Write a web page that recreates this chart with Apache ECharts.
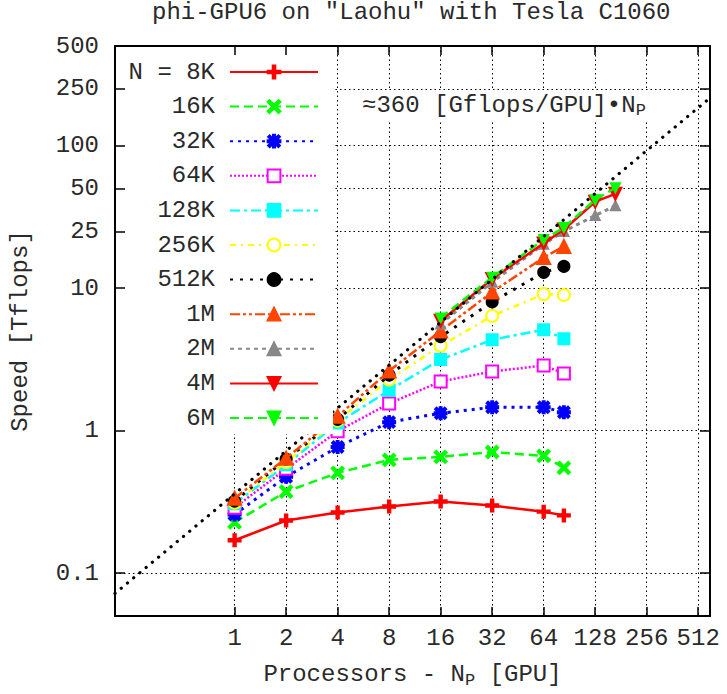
<!DOCTYPE html>
<html>
<head>
<meta charset="utf-8">
<script src="https://cdn.jsdelivr.net/npm/echarts@6.0.0/dist/echarts.min.js"></script>
<style>
html,body{margin:0;padding:0;background:#fff;}
#chart{width:727px;height:694px;}
</style>
</head>
<body>
<div id="chart"></div>
<script>
// ---------- data ----------
const titleText = 'phi-GPU6 on "Laohu" with Tesla C1060';
const xTicks = [1, 2, 4, 8, 16, 32, 64, 128, 256, 512];
const yTicks = [0.1, 1, 10, 25, 50, 100, 250, 500];

const procsSmall = [1, 2, 4, 8, 16, 32, 64, 84];
const procsLarge = [16, 32, 64, 84, 128, 168];

const speed8K   = [0.170, 0.234, 0.266, 0.293, 0.318, 0.298, 0.270, 0.254];
const speed16K  = [0.227, 0.373, 0.505, 0.623, 0.654, 0.708, 0.664, 0.548];
const speed32K  = [0.258, 0.474, 0.767, 1.146, 1.324, 1.458, 1.458, 1.345];
const speed64K  = [0.288, 0.539, 0.99, 1.55, 2.21, 2.60, 2.86, 2.52];
const speed128K = [0.307, 0.575, 1.13, 1.92, 3.15, 4.34, 5.10, 4.41];
const speed256K = [0.312, 0.600, 1.18, 2.28, 3.94, 6.38, 9.08, 8.94];
const speed512K = [0.320, 0.630, 1.20, 2.45, 4.56, 7.99, 12.9, 14.2];
const speed1M   = [0.335, 0.640, 1.26, 2.62, 5.01, 9.38, 16.4, 19.6];
const speed2M   = [5.6, 11.0, 20.3, 25.0, 32.3, 37.9];
const speed4M   = [5.89, 11.6, 20.6, 25.8, 40.4, 45.9];
const speed6M   = [6.18, 11.9, 21.9, 26.6, 41.7, 50.6];

const fitProcs = [0.2, 600];
const fitSpeed = [0.072, 216];

const seriesNames = ['N = 8K', '16K', '32K', '64K', '128K', '256K', '512K', '1M', '2M', '4M', '6M'];

// ---------- styles ----------
const FONT = "'Liberation Mono', 'DejaVu Sans Mono', monospace";
const TXT = '#2a2a2a';
const PLUS = 'path://M4,0H6V4H10V6H6V10H4V6H0V4H4Z';
const CROSS = 'path://M0,1.4L1.4,0L5,3.6L8.6,0L10,1.4L6.4,5L10,8.6L8.6,10L5,6.4L1.4,10L0,8.6L3.6,5Z';
const STAR = 'path://M4.2,0H5.8V4.2H10V5.8H5.8V10H4.2V5.8H0V4.2H4.2Z M0.4,1.6L1.6,0.4L5,3.8L8.4,0.4L9.6,1.6L6.2,5L9.6,8.4L8.4,9.6L5,6.2L1.6,9.6L0.4,8.4L3.8,5Z';

function pairs(xs, ys) { return xs.map((x, i) => [x, ys[i]]); }

function mk(idx, xs, ys, color, dash, width, symbol, size, rot) {
  return {
    name: seriesNames[idx], type: 'line', xAxisIndex: 0, yAxisIndex: 0,
    data: pairs(xs, ys),
    symbol: symbol, symbolSize: size, symbolRotate: rot || 0,
    showSymbol: true,
    lineStyle: { color: color, width: width, type: dash },
    itemStyle: { color: color, borderColor: color, borderWidth: 2 },
    emphasis: { disabled: true },
    z: 2 + idx * 0.01
  };
}

const series = [
  {
    name: 'fit', type: 'line', xAxisIndex: 0, yAxisIndex: 0,
    data: pairs(fitProcs, fitSpeed),
    symbol: 'none',
    lineStyle: { color: '#000', width: 3.2, type: [0.1, 8], cap: 'round' },
    emphasis: { disabled: true },
    z: 3
  },
  mk(0, procsSmall, speed8K, '#ff0000', 'solid', 2.5, PLUS, 12),
  mk(1, procsSmall, speed16K, '#00ff00', [9, 5], 2.5, CROSS, 12),
  mk(2, procsSmall, speed32K, '#0000ff', [3, 5], 3, STAR, 12),
  mk(3, procsSmall, speed64K, '#ff00ff', [2, 2], 2.5, 'emptyRect', 12),
  mk(4, procsSmall, speed128K, '#00ffff', [10, 4, 3, 4], 2.5, 'rect', 11),
  mk(5, procsSmall, speed256K, '#ffff00', [6, 5, 2, 5], 2.5, 'emptyCircle', 12),
  mk(6, procsSmall, speed512K, '#000000', [3, 7], 3, 'circle', 11),
  mk(7, procsSmall, speed1M, '#ff4500', [10, 3, 3, 3, 3, 3], 2.5, 'triangle', 13),
  mk(8, procsLarge, speed2M, '#888888', [4, 4], 3, 'triangle', 9),
  mk(9, procsLarge, speed4M, '#ff0000', 'solid', 2.5, 'triangle', 12, 180),
  mk(10, procsLarge, speed6M, '#00ff00', [9, 5], 2.5, 'triangle', 9, 180)
];

const gridLine = { show: true, lineStyle: { color: '#000', width: 1, type: [1.5, 3] } };
const border = { show: true, onZero: false, lineStyle: { color: '#000', width: 2 } };
const tickStyle = { color: '#000', width: 1.5 };
const labelFmt = v => String(+(+v).toPrecision(6));

const option = {
  animation: false,
  backgroundColor: '#fff',
  title: {
    text: titleText, left: 152, top: 0, padding: 0,
    textStyle: { fontFamily: FONT, fontSize: 24, fontWeight: 'normal', color: TXT }
  },
  grid: { left: 113, right: 17, top: 46, bottom: 74, containLabel: false },
  legend: {
    data: seriesNames, orient: 'vertical', align: 'right',
    left: 114, top: 46, padding: [14, 14, 4, 14.6],
    itemWidth: 88, itemHeight: 16, itemGap: 10.6,
    backgroundColor: '#fff', selectedMode: false,
    textStyle: { fontFamily: FONT, fontSize: 24, color: TXT, lineHeight: 24, padding: [0, 10, 0, 0] }
  },
  xAxis: [
    {
      type: 'log', logBase: 2, min: 0.2, max: 600, position: 'bottom',
      axisLine: border,
      axisTick: { show: true, inside: true, length: 9, customValues: xTicks, lineStyle: tickStyle },
      axisLabel: { customValues: xTicks, margin: 10, fontSize: 24, fontFamily: FONT, color: TXT, formatter: labelFmt },
      splitLine: gridLine, minorTick: { show: false }, minorSplitLine: { show: false },
      name: 'Processors - N{sub|P} [GPU]', nameLocation: 'middle', nameGap: 43,
      nameTextStyle: { fontFamily: FONT, fontSize: 24, color: TXT, lineHeight: 30,
        rich: { sub: { fontFamily: FONT, fontSize: 17, color: TXT, verticalAlign: 'bottom', lineHeight: 30 } } }
    },
    {
      type: 'log', logBase: 2, min: 0.2, max: 600, position: 'top', z: 10,
      axisLine: border,
      axisTick: { show: true, inside: true, length: 9, customValues: xTicks, lineStyle: tickStyle },
      axisLabel: { show: false }, splitLine: { show: false }
    }
  ],
  yAxis: [
    {
      type: 'log', logBase: 10, min: 0.05, max: 500, position: 'left',
      axisLine: border,
      axisTick: { show: false, customValues: yTicks },
      axisLabel: { customValues: yTicks, margin: 16, fontSize: 24, fontFamily: FONT, color: TXT, formatter: labelFmt },
      splitLine: gridLine, minorTick: { show: false }, minorSplitLine: { show: false },
      name: 'Speed [Tflops]', nameLocation: 'middle', nameRotate: 90, nameGap: 83,
      nameTextStyle: { fontFamily: FONT, fontSize: 24, color: TXT }
    },
    {
      type: 'log', logBase: 10, min: 0.05, max: 500, position: 'right', z: 10,
      axisLine: border,
      axisTick: { show: true, inside: true, length: 10, customValues: yTicks, lineStyle: tickStyle },
      axisLabel: { show: false }, splitLine: { show: false }
    },
    {
      type: 'log', logBase: 10, min: 0.05, max: 500, position: 'left', z: 10,
      axisLine: { show: true, onZero: false, lineStyle: { color: '#000', width: 2 } },
      axisTick: { show: true, inside: true, length: 10, customValues: yTicks, lineStyle: tickStyle },
      axisLabel: { show: false }, splitLine: { show: false }
    }
  ],
  graphic: [
    {
      type: 'text', left: 358, top: 90, z: 20,
      style: {
        text: '≈360 [Gflops/GPU]•N{sub|P}',
        fontFamily: FONT, fontSize: 24, fill: TXT,
        backgroundColor: '#fff', padding: [1, 4, 1, 4], lineHeight: 28,
        rich: { sub: { fontFamily: FONT, fontSize: 17, fill: TXT, verticalAlign: 'bottom', lineHeight: 28, backgroundColor: '#fff' } }
      }
    }
  ],
  series: series
};

const chart = echarts.init(document.getElementById('chart'), null, { renderer: 'svg' });
chart.setOption(option);
</script>
</body>
</html>
